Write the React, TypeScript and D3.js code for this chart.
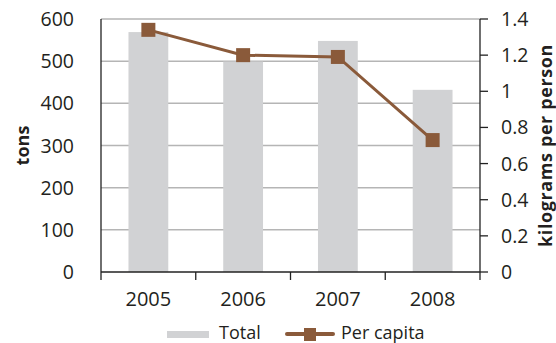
import React from "react";
import * as d3 from "d3";

const years = ["2005", "2006", "2007", "2008"];
const totalTons = [569, 499, 548, 432];
const perCapitaKg = [1.34, 1.2, 1.19, 0.73];
const leftTicks = [0, 100, 200, 300, 400, 500, 600];
const rightTicks = [0, 0.2, 0.4, 0.6, 0.8, 1, 1.2, 1.4];

const W = 556;
const H = 343;
const plot = { left: 101, right: 480, top: 19, bottom: 272 };
const FONT = "'Open Sans', sans-serif";
const TEXT = "#231f20";
const BAR = "#d1d2d4";
const LINE = "#8a5a3a";
const GRID = "#b5b5b5";

export default function App() {
  const x = d3
    .scaleBand<string>()
    .domain(years)
    .range([plot.left, plot.right])
    .paddingInner(0)
    .paddingOuter(0);
  const yL = d3.scaleLinear().domain([0, 600]).range([plot.bottom, plot.top]);
  const yR = d3.scaleLinear().domain([0, 1.4]).range([plot.bottom, plot.top]);
  const barW = x.bandwidth() * 0.42;
  const cx = (y: string) => (x(y) as number) + x.bandwidth() / 2;

  const line = d3
    .line<number>()
    .x((_, i) => cx(years[i]))
    .y((d) => yR(d));

  const marker = 14;

  return (
    <svg
      width={W}
      height={H}
      style={{ position: "absolute", left: 0, top: 0, display: "block" }}
      fontFamily={FONT}
    >
      {/* grid */}
      {leftTicks
        .filter((t) => t > 0)
        .map((t) => (
          <line
            key={t}
            x1={plot.left}
            x2={plot.right}
            y1={yL(t)}
            y2={yL(t)}
            stroke={GRID}
            strokeWidth={1.5}
          />
        ))}

      {/* bars */}
      {years.map((y, i) => (
        <rect
          key={y}
          x={cx(y) - barW / 2}
          y={yL(totalTons[i])}
          width={barW}
          height={plot.bottom - yL(totalTons[i])}
          fill={BAR}
        />
      ))}

      {/* axes */}
      <line x1={plot.left} x2={plot.left} y1={plot.top} y2={plot.bottom} stroke="#222" strokeWidth={1.3} />
      <line x1={plot.right} x2={plot.right} y1={plot.top} y2={plot.bottom} stroke="#222" strokeWidth={1.3} />
      <line x1={plot.left} x2={plot.right} y1={plot.bottom} y2={plot.bottom} stroke="#222" strokeWidth={1.3} />
      {[...years.map((y) => x(y) as number), plot.right].map((bx, i) => (
        <line key={i} x1={bx} x2={bx} y1={plot.bottom} y2={plot.bottom + 8} stroke="#222" strokeWidth={1.3} />
      ))}
      {rightTicks.map((t) => (
        <line key={t} x1={plot.right} x2={plot.right + 8} y1={yR(t)} y2={yR(t)} stroke="#222" strokeWidth={1.3} />
      ))}

      {/* per capita line */}
      <path d={line(perCapitaKg) || ""} fill="none" stroke={LINE} strokeWidth={3} />
      {perCapitaKg.map((v, i) => (
        <rect
          key={i}
          x={cx(years[i]) - marker / 2}
          y={yR(v) - marker / 2}
          width={marker}
          height={marker}
          fill={LINE}
        />
      ))}

      {/* tick labels */}
      {leftTicks.map((t) => (
        <text key={t} x={74} y={yL(t)} dy="0.36em" textAnchor="end" fontSize={19.5} fill={TEXT}>
          {t}
        </text>
      ))}
      {rightTicks.map((t) => (
        <text key={t} x={501} y={yR(t)} dy="0.36em" textAnchor="start" fontSize={19.5} fill={TEXT}>
          {d3.format("~g")(t)}
        </text>
      ))}
      {years.map((y) => (
        <text key={y} x={cx(y)} y={306} textAnchor="middle" fontSize={20} fill={TEXT}>
          {y}
        </text>
      ))}

      {/* axis titles */}
      <text
        transform={`translate(29,${(plot.top + plot.bottom) / 2}) rotate(-90)`}
        textAnchor="middle"
        fontSize={18}
        fontWeight="bold"
        fill={TEXT}
      >
        tons
      </text>
      <text
        transform={`translate(552,${(plot.top + plot.bottom) / 2}) rotate(-90)`}
        textAnchor="middle"
        fontSize={18}
        fontWeight="bold"
        letterSpacing={0.6}
        fill={TEXT}
      >
        kilograms per person
      </text>

      {/* legend */}
      <rect x={167} y={331} width={42} height={7} fill={BAR} />
      <text x={219} y={339} fontSize={18} fill={TEXT}>
        Total
      </text>
      <line x1={287} x2={333} y1={334} y2={334} stroke={LINE} strokeWidth={4} strokeLinecap="round" />
      <rect x={304} y={328} width={12} height={13} fill={LINE} />
      <text x={341} y={339} fontSize={18} fill={TEXT}>
        Per capita
      </text>
    </svg>
  );
}
